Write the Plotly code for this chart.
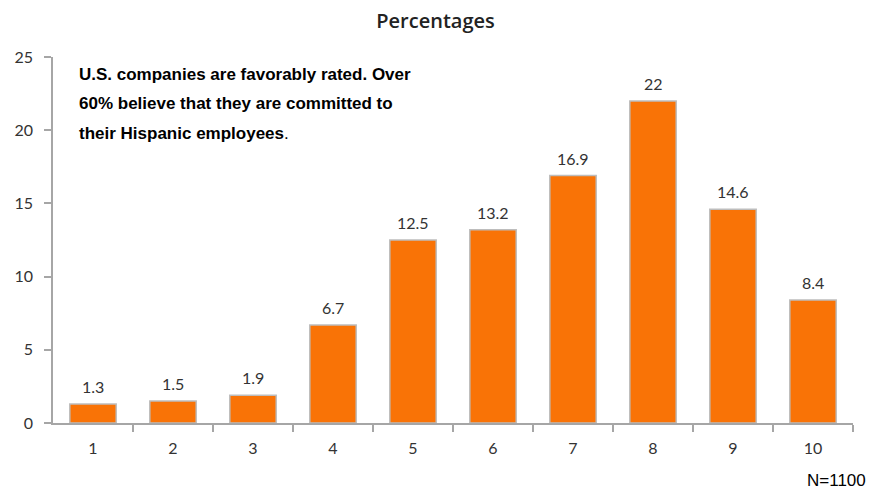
import plotly.graph_objects as go

# Ratings on a 1-10 scale and share of respondents (%)
ratings = ["1", "2", "3", "4", "5", "6", "7", "8", "9", "10"]
percentages = [1.3, 1.5, 1.9, 6.7, 12.5, 13.2, 16.9, 22, 14.6, 8.4]
y_ticks = [0, 5, 10, 15, 20, 25]
note_lines = [
    "<b>U.S. companies are favorably rated. Over</b>",
    "<b>60% believe that they are committed to</b>",
    "<b>their Hispanic employees</b>.",
]

label_font = dict(family="Lato, Open Sans, sans-serif", size=16, color="#333333")
axis_color = "#a6a6a6"

fig = go.Figure()
fig.add_trace(go.Bar(
    x=list(range(len(ratings))),
    y=percentages,
    width=0.58,
    marker=dict(color="#f97306", line=dict(color="#bdbdbd", width=1.5)),
    hoverinfo="y",
))

# value labels above each bar
for i, v in enumerate(percentages):
    fig.add_annotation(
        x=i, y=v, xref="x", yref="y", text=f"{v:g}", showarrow=False,
        yanchor="bottom", yshift=6, font=label_font,
    )

# explanatory note, one annotation per line for wider line spacing
for k, line in enumerate(note_lines):
    fig.add_annotation(
        xref="paper", yref="y", x=0.03, y=23.8 - k * 2.0,
        xanchor="left", yanchor="middle", align="left", showarrow=False,
        text=line,
        font=dict(family="Liberation Sans, Arial, sans-serif", size=17, color="#000000"),
    )

fig.add_annotation(
    xref="paper", yref="paper", x=1.019, y=-0.125, xanchor="right", yanchor="top",
    showarrow=False, text="N=1100",
    font=dict(family="Liberation Sans, Arial, sans-serif", size=17, color="#000000"),
)

fig.update_layout(
    width=871, height=496,
    margin=dict(l=53, r=18, t=57, b=73),
    paper_bgcolor="white", plot_bgcolor="white",
    showlegend=False,
    title=dict(
        text="Percentages", x=0.5, xanchor="center", y=0.958, yanchor="middle",
        font=dict(family="Open Sans, sans-serif", size=20, weight=600, color="#222222"),
    ),
)
fig.update_xaxes(
    range=[-0.5, 9.5],
    tickmode="array", tickvals=list(range(len(ratings))), ticktext=ratings,
    showline=True, linecolor=axis_color, linewidth=1.5,
    ticks="", ticklabelstandoff=10,
    tickfont=label_font, showgrid=False, zeroline=False,
    minor=dict(tickmode="array", tickvals=[i + 0.5 for i in range(len(ratings))],
               ticks="outside", ticklen=7, tickcolor=axis_color, tickwidth=1.5,
               showgrid=False),
)
fig.update_yaxes(
    range=[0, 25], tickvals=y_ticks,
    showline=True, linecolor=axis_color, linewidth=1.5,
    ticks="outside", ticklen=7, tickcolor=axis_color, tickwidth=1.5,
    ticklabelstandoff=8,
    tickfont=label_font, showgrid=False, zeroline=False,
)

fig.write_html("out.html")
